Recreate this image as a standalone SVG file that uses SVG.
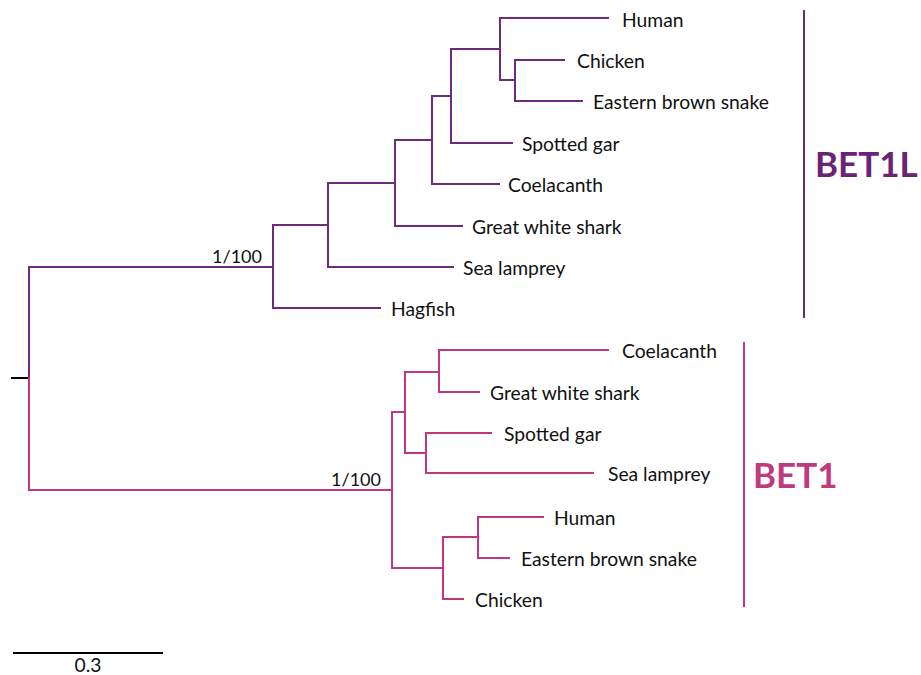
<svg xmlns="http://www.w3.org/2000/svg" width="921" height="675" viewBox="0 0 921 675">
  <style>
    .bg { fill: #ffffff; }
    .e1l { fill: none; stroke: #6e2a7e; stroke-width: 2; stroke-linecap: square; }
    .e1 { fill: none; stroke: #c2377f; stroke-width: 2; stroke-linecap: square; }
    .blk { fill: none; stroke: #000000; stroke-width: 2; }
    .leaf { font-family: Lato, "Liberation Sans", sans-serif; font-size: 19.3px; fill: #111111; }
    .sup { font-family: Lato, "Liberation Sans", sans-serif; font-size: 18px; fill: #111111; text-anchor: end; }
    .clade { font-family: Lato, "Liberation Sans", sans-serif; font-size: 35px; font-weight: bold; }
  </style>
  <rect class="bg" x="0" y="0" width="921" height="675"/>

  <g id="connectors">
    <!-- root -->
    <path class="blk" d="M11 378 H29"/>
    <path class="e1l" d="M29 378 V267 H273"/>
    <path class="e1" d="M29 378 V490 H392"/>

    <!-- BET1L subtree -->
    <path class="e1l" d="M273 225 V308 H380"/>
    <path class="e1l" d="M273 225 H328 V183 M328 225 V267 H453"/>
    <path class="e1l" d="M328 183 H395 V140 M395 183 V226 H462"/>
    <path class="e1l" d="M395 140 H432 V96 M432 140 V184 H499"/>
    <path class="e1l" d="M432 96 H451 V49 M451 96 V143 H512"/>
    <path class="e1l" d="M451 49 H500 V18 H608 M500 49 V80 H515"/>
    <path class="e1l" d="M515 60 V101 H582 M515 60 H564"/>

    <!-- BET1 subtree -->
    <path class="e1" d="M392 412 V568"/>
    <path class="e1" d="M392 412 H405 V372 M405 412 V453 H426"/>
    <path class="e1" d="M405 372 H439 V350 H608 M439 372 V392 H479"/>
    <path class="e1" d="M426 433 V473 H593 M426 433 H491"/>
    <path class="e1" d="M392 568 H443 V537 H478 M443 568 V599 H463"/>
    <path class="e1" d="M478 517 V558 H509 M478 517 H543"/>
  </g>

  <g id="support-values">
    <text class="sup" x="262" y="263">1/100</text>
    <text class="sup" x="381" y="486">1/100</text>
  </g>

  <g id="bet1l-leaves">
    <text class="leaf" x="622" y="26.5">Human</text>
    <text class="leaf" x="577" y="68">Chicken</text>
    <text class="leaf" x="593" y="109">Eastern brown snake</text>
    <text class="leaf" x="522" y="150.5">Spotted gar</text>
    <text class="leaf" x="508" y="192">Coelacanth</text>
    <text class="leaf" x="472" y="234">Great white shark</text>
    <text class="leaf" x="463" y="275">Sea lamprey</text>
    <text class="leaf" x="391" y="316">Hagfish</text>
  </g>

  <g id="bet1-leaves">
    <text class="leaf" x="622" y="358">Coelacanth</text>
    <text class="leaf" x="490" y="400">Great white shark</text>
    <text class="leaf" x="504" y="441">Spotted gar</text>
    <text class="leaf" x="608" y="481">Sea lamprey</text>
    <text class="leaf" x="554" y="525">Human</text>
    <text class="leaf" x="521" y="566">Eastern brown snake</text>
    <text class="leaf" x="475" y="607">Chicken</text>
  </g>

  <g id="clade-bet1l">
    <path class="e1l" d="M804 11 V317"/>
    <text class="clade" x="815" y="177" fill="#6b2374">BET1L</text>
  </g>

  <g id="clade-bet1">
    <path class="e1" d="M744 343 V606"/>
    <text class="clade" x="753" y="488" fill="#bf3a7e">BET1</text>
  </g>

  <g id="scale-bar">
    <path class="blk" d="M13 653 H163"/>
    <text class="leaf" x="88" y="672" text-anchor="middle">0.3</text>
  </g>
</svg>
